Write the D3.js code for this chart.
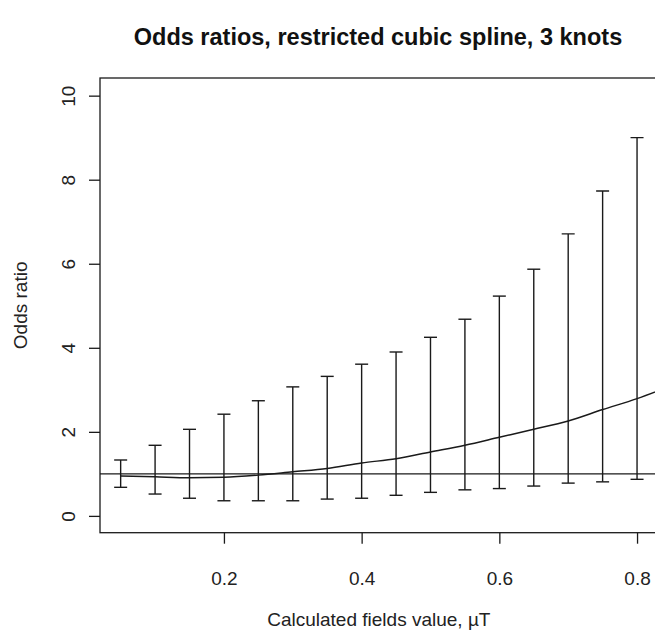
<!DOCTYPE html>
<html>
<head>
<meta charset="utf-8">
<script src="https://cdn.jsdelivr.net/npm/d3@7"></script>
<style>
  html, body { margin: 0; padding: 0; background: #fff; }
  svg { display: block; font-family: "Liberation Sans", Arial, sans-serif; }
</style>
</head>
<body>
<svg id="chart" width="655" height="630"></svg>
<script>
// ---- data ----
const fieldValues = [0.05, 0.10, 0.15, 0.20, 0.25, 0.30, 0.35, 0.40, 0.45, 0.50, 0.55, 0.60, 0.65, 0.70, 0.75, 0.80];
const upperCI     = [1.33, 1.68, 2.06, 2.42, 2.74, 3.07, 3.32, 3.61, 3.90, 4.25, 4.68, 5.23, 5.87, 6.71, 7.73, 9.00];
const lowerCI     = [0.68, 0.52, 0.42, 0.36, 0.36, 0.36, 0.40, 0.42, 0.49, 0.56, 0.62, 0.65, 0.71, 0.78, 0.81, 0.87];
const curveX      = [0.05, 0.10, 0.15, 0.20, 0.25, 0.30, 0.35, 0.40, 0.45, 0.50, 0.55, 0.60, 0.65, 0.70, 0.75, 0.80, 0.85];
const curveOR     = [0.95, 0.93, 0.91, 0.92, 0.97, 1.05, 1.13, 1.26, 1.36, 1.52, 1.68, 1.87, 2.06, 2.26, 2.53, 2.79, 3.10];
const referenceOR = 1;
const xTicks = [0.2, 0.4, 0.6, 0.8];
const yTicks = [0, 2, 4, 6, 8, 10];
const titleText = "Odds ratios, restricted cubic spline, 3 knots";
const xLabel = "Calculated fields value, \u00B5T";
const yLabel = "Odds ratio";

// ---- layout ----
const svg = d3.select("#chart");
const box = { left: 100, right: 657.7, top: 78, bottom: 532.7 };
const ink = "#1a1a1a";
const textInk = "#222";
const fontFam = "Liberation Sans, Arial, sans-serif";

const x = d3.scaleLinear().domain([0.02, 0.83]).range([box.left, box.right]);
const y = d3.scaleLinear().domain([-0.4, 10.42]).range([box.bottom, box.top]);

svg.append("defs").append("clipPath").attr("id", "plotclip")
  .append("rect")
  .attr("x", box.left).attr("y", box.top)
  .attr("width", box.right - box.left).attr("height", box.bottom - box.top);

// title
svg.append("text")
  .attr("x", 378).attr("y", 45)
  .attr("text-anchor", "middle")
  .attr("font-size", 23.5).attr("font-weight", "bold")
  .attr("fill", "#111")
  .text(titleText);

// box
svg.append("rect")
  .attr("x", box.left).attr("y", box.top)
  .attr("width", box.right - box.left).attr("height", box.bottom - box.top)
  .attr("fill", "none").attr("stroke", ink).attr("stroke-width", 1.3);

// x axis
const xAxis = svg.append("g")
  .attr("transform", `translate(0,${box.bottom})`)
  .call(d3.axisBottom(x).tickValues(xTicks).tickSize(11).tickFormat(d3.format(".1f")));
xAxis.select(".domain").remove();
xAxis.selectAll(".tick line").attr("stroke", ink).attr("stroke-width", 1.3);
xAxis.selectAll(".tick text")
  .attr("font-size", 19).attr("fill", textInk).attr("font-family", fontFam)
  .attr("y", 52).attr("dy", null);

// y axis
const yAxis = svg.append("g")
  .attr("transform", `translate(${box.left},0)`)
  .call(d3.axisLeft(y).tickValues(yTicks).tickSize(11).tickFormat(d3.format("d")));
yAxis.select(".domain").remove();
yAxis.selectAll(".tick line").attr("stroke", ink).attr("stroke-width", 1.3);
yAxis.selectAll(".tick text")
  .attr("font-size", 19).attr("fill", textInk).attr("font-family", fontFam)
  .attr("x", null)
  .attr("text-anchor", "middle")
  .attr("transform", "translate(-32,0) rotate(-90)")
  .attr("dy", "0.35em");

// axis titles
svg.append("text")
  .attr("x", (box.left + box.right) / 2).attr("y", 626)
  .attr("text-anchor", "middle")
  .attr("font-size", 19).attr("fill", textInk)
  .text(xLabel);

svg.append("text")
  .attr("transform", `translate(27,${(box.top + box.bottom) / 2}) rotate(-90)`)
  .attr("text-anchor", "middle")
  .attr("font-size", 19).attr("fill", textInk)
  .text(yLabel);

// plot contents
const plot = svg.append("g").attr("clip-path", "url(#plotclip)");

// reference line at OR = 1
plot.append("line")
  .attr("x1", box.left).attr("x2", box.right)
  .attr("y1", y(referenceOR)).attr("y2", y(referenceOR))
  .attr("stroke", ink).attr("stroke-width", 1.3);

// spline curve
const curveData = curveX.map((v, i) => [v, curveOR[i]]);
plot.append("path")
  .datum(curveData)
  .attr("fill", "none").attr("stroke", ink).attr("stroke-width", 1.5)
  .attr("d", d3.line().x(d => x(d[0])).y(d => y(d[1])).curve(d3.curveMonotoneX));

// error bars
const bars = fieldValues.map((v, i) => ({ v, lo: lowerCI[i], hi: upperCI[i] }));
const capHalf = 6.5;
const eb = plot.selectAll("g.eb").data(bars).join("g").attr("class", "eb")
  .attr("stroke", ink).attr("stroke-width", 1.4);
eb.append("line")
  .attr("x1", d => x(d.v)).attr("x2", d => x(d.v))
  .attr("y1", d => y(d.lo)).attr("y2", d => y(d.hi));
eb.append("line")
  .attr("x1", d => x(d.v) - capHalf).attr("x2", d => x(d.v) + capHalf)
  .attr("y1", d => y(d.hi)).attr("y2", d => y(d.hi));
eb.append("line")
  .attr("x1", d => x(d.v) - capHalf).attr("x2", d => x(d.v) + capHalf)
  .attr("y1", d => y(d.lo)).attr("y2", d => y(d.lo));
</script>
</body>
</html>
